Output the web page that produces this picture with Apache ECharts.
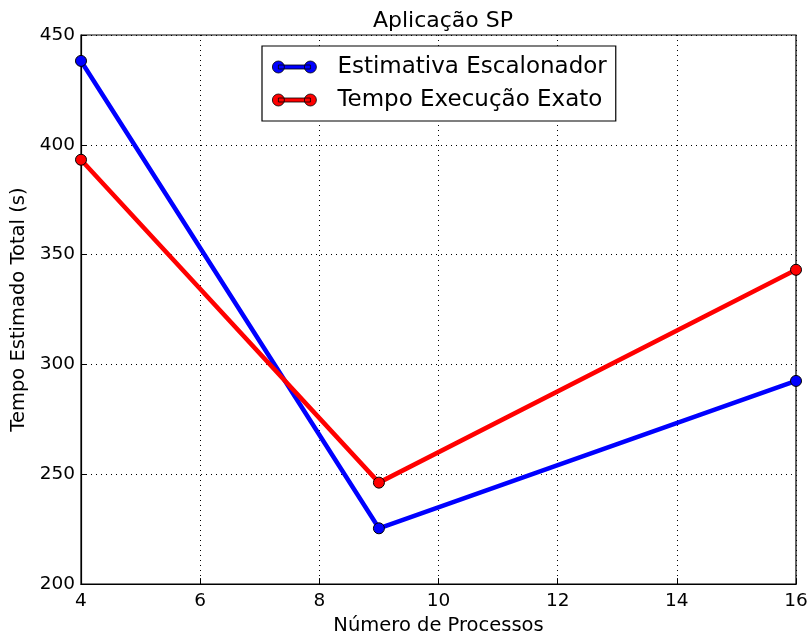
<!DOCTYPE html>
<html>
<head>
<meta charset="utf-8">
<script src="https://cdn.jsdelivr.net/npm/echarts@6/dist/echarts.min.js"></script>
<style>html,body{margin:0;padding:0;background:#fff;overflow:hidden}#c{width:811px;height:641px}</style>
</head>
<body>
<div id="c"></div>
<script>
const processos = [4, 9, 16];
const estimativa = [438.2, 225.4, 292.5];
const exato = [393.2, 246.2, 343.1];
const seriesNames = ['Estimativa Escalonador', 'Tempo Execução Exato'];
const xTicks = [4, 6, 8, 10, 12, 14, 16];
const yTicks = [200, 250, 300, 350, 400, 450];

const FONT = 'DejaVu Sans';
const chart = echarts.init(document.getElementById('c'), null, {renderer: 'canvas'});
const legendIcon = 'path://M0,6 A6,6 0 1,1 12,6 A6,6 0 1,1 0,6 Z M6,4 L38,4 L38,8 L6,8 Z M32,6 A6,6 0 1,1 44,6 A6,6 0 1,1 32,6 Z';
function mk(name, data, color) {
  return {
    name: name,
    type: 'line',
    data: processos.map((x, i) => [x, data[i]]),
    symbol: 'circle',
    symbolSize: 11,
    lineStyle: {color: color, width: 4.5},
    itemStyle: {color: color, borderColor: '#000', borderWidth: 1},
    emphasis: {disabled: true},
    animation: false
  };
}
chart.setOption({
  animation: false,
  title: {
    text: 'Aplicação SP',
    left: 438, textAlign: 'center', top: 5,
    textStyle: {fontFamily: FONT, fontSize: 22, fontWeight: 'normal', color: '#000'}
  },
  legend: {
    orient: 'vertical',
    left: 262, top: 46,
    padding: [9, 9, 9, 10],
    itemGap: 9,
    itemWidth: 44, itemHeight: 12,
    borderColor: '#000', borderWidth: 1.2,
    backgroundColor: '#fff',
    textStyle: {fontFamily: FONT, fontSize: 23, lineHeight: 24, color: '#000', padding: [0, 0, 0, 16]},
    data: [
      {name: seriesNames[0], icon: legendIcon, itemStyle: {color: '#0000ff', borderColor: '#000', borderWidth: 0.8}},
      {name: seriesNames[1], icon: legendIcon, itemStyle: {color: '#ff0000', borderColor: '#000', borderWidth: 0.8}}
    ]
  },
  grid: {
    left: 81, right: 15, top: 35, bottom: 52,
    show: true, borderColor: '#000', borderWidth: 1.2, containLabel: false
  },
  xAxis: {
    type: 'value', min: 4, max: 16, interval: 2,
    name: 'Número de Processos', nameLocation: 'middle', nameGap: 31,
    nameTextStyle: {fontFamily: FONT, fontSize: 19.5, color: '#000'},
    axisLine: {show: true, lineStyle: {color: '#000', width: 1.2}},
    axisTick: {show: true, inside: true, length: 6, lineStyle: {color: '#000'}},
    axisLabel: {fontFamily: FONT, fontSize: 18.5, color: '#000', margin: 8},
    splitLine: {show: true, lineStyle: {color: '#000', type: [1, 4], width: 1}}
  },
  yAxis: {
    type: 'value', min: 200, max: 450, interval: 50,
    name: 'Tempo Estimado Total (s)', nameLocation: 'middle', nameGap: 50,
    nameTextStyle: {fontFamily: FONT, fontSize: 19.5, color: '#000'},
    axisLine: {show: true, lineStyle: {color: '#000', width: 1.2}},
    axisTick: {show: true, inside: true, length: 6, lineStyle: {color: '#000'}},
    axisLabel: {fontFamily: FONT, fontSize: 18.5, color: '#000', margin: 6},
    splitLine: {show: true, lineStyle: {color: '#000', type: [1, 4], width: 1}}
  },
  series: [
    mk(seriesNames[0], estimativa, '#0000ff'),
    mk(seriesNames[1], exato, '#ff0000')
  ]
});
</script>
</body>
</html>
